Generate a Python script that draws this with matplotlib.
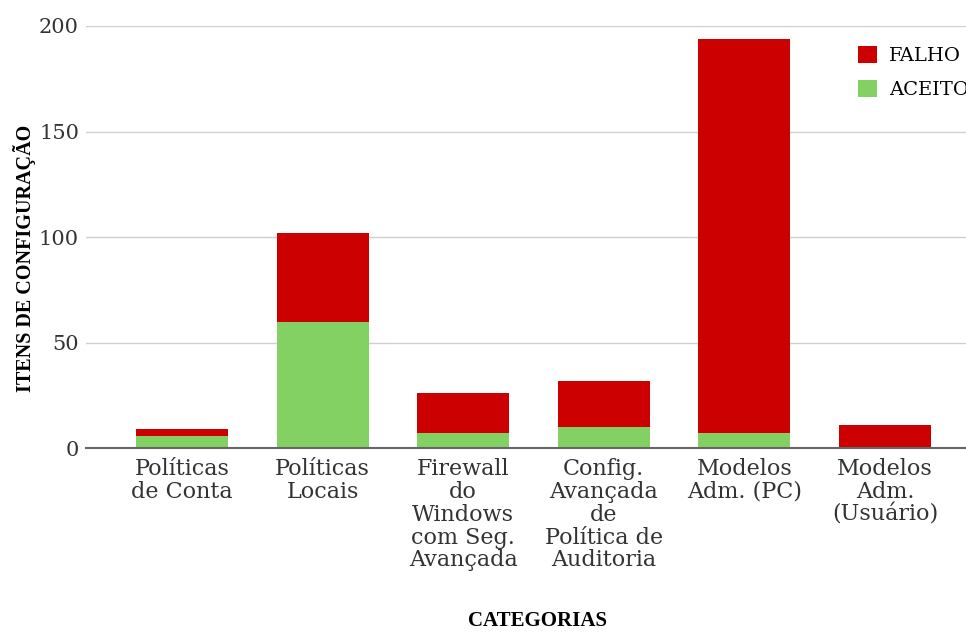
import numpy as np
import matplotlib.pyplot as plt

categorias = ["Políticas\nde Conta", "Políticas\nLocais",
              "Firewall\ndo\nWindows\ncom Seg.\nAvançada",
              "Config.\nAvançada\nde\nPolítica de\nAuditoria",
              "Modelos\nAdm. (PC)", "Modelos\nAdm.\n(Usuário)"]
aceito = [6, 60, 7, 10, 7, 0]
falho = [3, 42, 19, 22, 187, 11]

cor_aceito = "#82d162"
cor_falho = "#cc0000"

fig = plt.figure(figsize=(9.66, 6.34), dpi=100)
ax = fig.add_axes([0.089, 0.293, 0.911, 0.666])

x = np.arange(len(categorias))
ax.bar(x, aceito, width=0.655, color=cor_aceito, label="ACEITO", zorder=3)
ax.bar(x, falho, width=0.655, bottom=aceito, color=cor_falho, label="FALHO", zorder=3)

ax.set_xlim(-0.683, 5.576)
ax.set_ylim(0, 200)
ax.set_yticks([0, 50, 100, 150, 200])
ax.grid(axis="y", color="#d0d0d0", linewidth=1, zorder=0)
for s in ["top", "right", "left"]:
    ax.spines[s].set_visible(False)
ax.spines["bottom"].set_color("#666666")
ax.spines["bottom"].set_linewidth(1.5)
ax.spines["bottom"].set_zorder(4)
ax.tick_params(length=0, labelsize=15, labelcolor="#333333")
ax.tick_params(axis="x", pad=7, labelsize=16)
ax.tick_params(axis="y", pad=5)
ax.set_xticks(x)
ax.set_xticklabels(categorias, fontfamily="DejaVu Serif", linespacing=1.05, va="top")
for lbl in ax.get_yticklabels():
    lbl.set_fontfamily("DejaVu Serif")

ax.set_ylabel("ITENS DE CONFIGURAÇÃO", fontfamily="Liberation Serif",
              fontweight="bold", fontsize=14.5)
ax.yaxis.set_label_coords(-0.057, 0.45)
fig.text(0.556, 0.004, "CATEGORIAS", fontfamily="Liberation Serif",
         fontweight="bold", fontsize=15, ha="center", va="bottom")

handles, labels = ax.get_legend_handles_labels()
ax.legend(handles[::-1], labels[::-1], loc="upper left", bbox_to_anchor=(0.868, 0.972),
          frameon=False, handlelength=1.0, handleheight=1.0,
          prop={"family": "DejaVu Serif", "size": 14}, labelspacing=0.75,
          handletextpad=0.6, borderaxespad=0)

fig.savefig("out.png", dpi=100)
